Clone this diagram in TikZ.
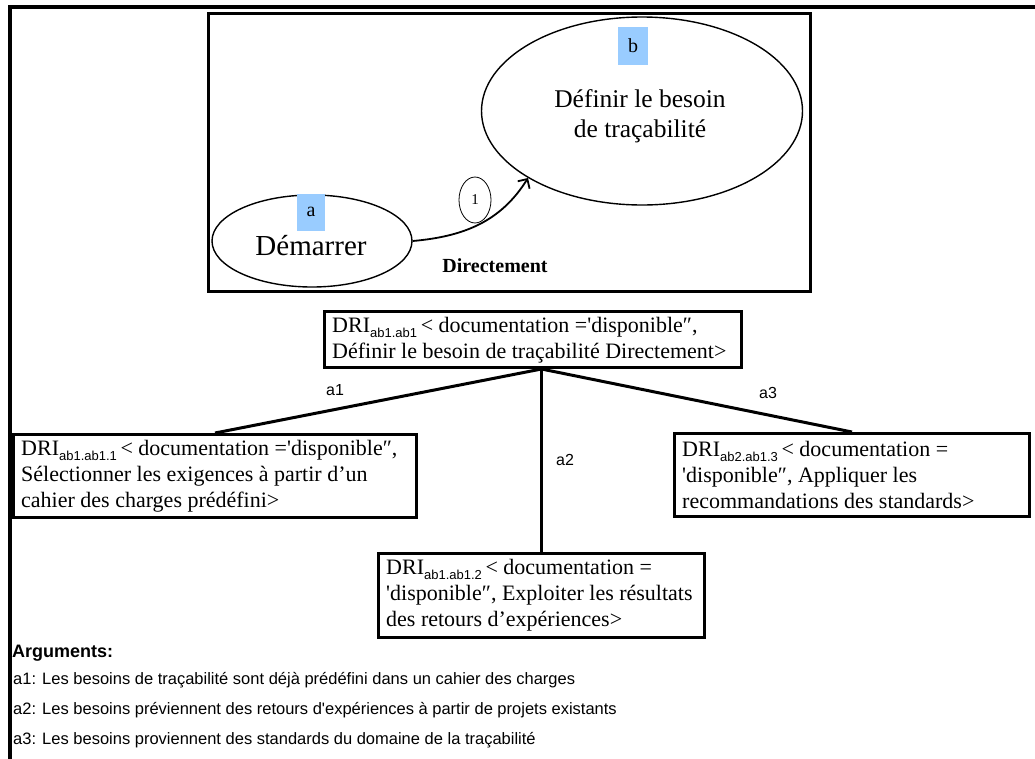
\documentclass[tikz,border=0pt]{standalone}
\usepackage{fontspec}
\setmainfont{Liberation Serif}
\setsansfont{Liberation Sans}
\usetikzlibrary{shapes.geometric,arrows.meta}
\definecolor{lblue}{RGB}{153,204,255}
\newcommand\drisub[1]{\raisebox{-0.22em}{\sffamily\fontsize{13}{13}\selectfont #1}\,}
\newcommand\sq{\textquotesingle}
\begin{document}
\begin{tikzpicture}[x=1pt,y=-1pt,
  frame/.style={line width=4pt},
  panel/.style={line width=3pt},
  oval/.style={ellipse, draw, line width=1.4pt, inner sep=0pt},
  tag/.style={fill=lblue, inner sep=0pt, font=\fontsize{20}{20}\selectfont},
  dribox/.style={draw, line width=3pt, anchor=north west, inner sep=0pt},
  dritext/.style={anchor=west, align=left, inner sep=0pt, font=\fontsize{22}{26}\selectfont},
  treeline/.style={line width=3pt},
  arg/.style={anchor=west, inner sep=0pt, font=\sffamily\fontsize{16.5}{16.5}\selectfont},
  lbl/.style={inner sep=0pt, font=\sffamily\fontsize{16}{16}\selectfont},
  arr/.style={line width=1.8pt, -{Straight Barb[length=7pt,width=14pt,line width=1.8pt]}}]
\useasboundingbox (0,0) rectangle (1035,758);
% outer frame
\draw[frame] (1045,7) -- (9.5,7) -- (9.5,770);
% inner panel
\draw[panel] (208,13) rectangle (810,291);
% ellipses
\node[oval, minimum width=321, minimum height=188] (b) at (642,111) {};
\node[align=center, inner sep=0pt, font=\fontsize{25.5}{30}\selectfont] (btext) at (640,116) {Définir le besoin\\de traçabilité};
\node[oval, minimum width=200, minimum height=92] (a) at (312,241) {};
\node[inner sep=0pt, font=\fontsize{29}{29}\selectfont] (atext) at (311,246) {Démarrer};
\node[tag, minimum width=30, minimum height=38] (tb) at (633,46) {b};
\node[tag, minimum width=28, minimum height=37] (ta) at (311,212) {a};
% arrow
\draw[arr] (a.east) to[out=5, in=-122] (b.south west);
\node[ellipse, draw, line width=0.8pt, minimum width=32, minimum height=46, inner sep=0pt,
      font=\fontsize{15}{15}\selectfont] (one) at (475,200) {1};
\node[inner sep=0pt, font=\bfseries\fontsize{20}{20}\selectfont] (dir) at (495,266) {Directement};
% DRI boxes
\node[dribox, minimum width=417, minimum height=56] (top) at (323,310) {};
\node[dritext, font=\fontsize{22}{26}\selectfont] (toptext) at ([xshift=9pt,yshift=-1pt]top.west)
  {DRI\drisub{ab1.ab1}< documentation =\sq disponible″,\\Définir le besoin de traçabilité Directement>};
\coordinate (junc) at ([xshift=8.5pt]top.south);
\node[dribox, minimum width=403, minimum height=83] (left) at (12,433) {};
\node[dritext] (lefttext) at ([xshift=9pt]left.west)
  {DRI\drisub{ab1.ab1.1}< documentation =\sq disponible″,\\Sélectionner les exigences à partir d’un\\cahier des charges prédéfini>};
\node[dribox, minimum width=355, minimum height=83] (right) at (673,432) {};
\node[dritext] (righttext) at ([xshift=9pt]right.west)
  {DRI\drisub{ab2.ab1.3}< documentation =\\\sq disponible″, Appliquer les\\recommandations des standards>};
\node[dribox, minimum width=326, minimum height=84] (mid) at (377,552) {};
\node[dritext] (midtext) at ([xshift=9pt]mid.west)
  {DRI\drisub{ab1.ab1.2}< documentation =\\\sq disponible″, Exploiter les résultats\\des retours d’expériences>};
% tree
\draw[treeline] (junc) -- (left.north);
\draw[treeline] (junc) -- (mid.north);
\draw[treeline] (junc) -- (right.north);
\node[lbl] (la1) at (335,390) {a1};
\node[lbl] (la2) at (565,460) {a2};
\node[lbl] (la3) at (768,393) {a3};
% arguments
\node[anchor=west, inner sep=0pt, font=\sffamily\bfseries\fontsize{18}{18}\selectfont] (args) at (12,653) {Arguments:};
\node[arg] (g1) at (13,680) {a1: Les besoins de traçabilité sont déjà prédéfini dans un cahier des charges};
\node[arg] (g2) at (13,710) {a2: Les besoins préviennent des retours d\sq expériences à partir de projets existants};
\node[arg] (g3) at (13,740) {a3: Les besoins proviennent des standards du domaine de la traçabilité};
\end{tikzpicture}
\end{document}
